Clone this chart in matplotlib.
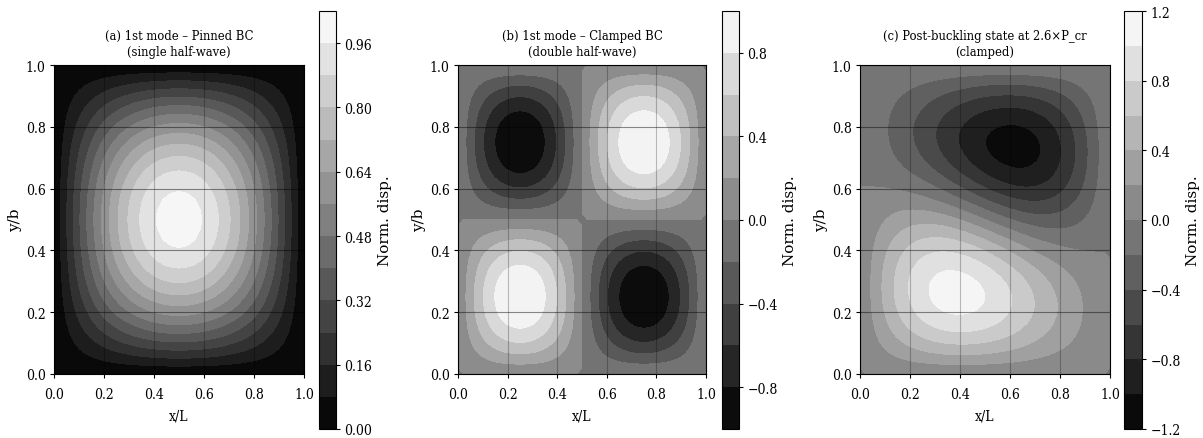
import numpy as np
import matplotlib
matplotlib.use("Agg")
import matplotlib.pyplot as plt

plt.rcParams["font.family"] = "DejaVu Serif"
plt.rcParams["font.stretch"] = "condensed"

W, H = 1203, 439

# grid positions, 1/48 steps along each plate edge
grid = [i / 48 for i in range(49)]

# deflection profiles read along the plate edges
half_wave = [0, .065, .131, .195, .259, .321, .383, .442, .5, .556, .609, .659,
             .707, .752, .793, .831, .866, .897, .924, .947, .966, .981, .991, .998, 1,
             .998, .991, .981, .966, .947, .924, .897, .866, .831, .793, .752,
             .707, .659, .609, .556, .5, .442, .383, .321, .259, .195, .131, .065, 0]
double_wave = [0, .131, .259, .383, .5, .609, .707, .793, .866, .924, .966, .991,
               1, .991, .966, .924, .866, .793, .707, .609, .5, .383, .259, .131, 0,
               -.131, -.259, -.383, -.5, -.609, -.707, -.793, -.866, -.924, -.966, -.991,
               -1, -.991, -.966, -.924, -.866, -.793, -.707, -.609, -.5, -.383, -.259, -.131, 0]
post_mix = 0.33

# rows are y, columns are x
pinned = np.outer(half_wave, half_wave)
clamped = np.outer(double_wave, double_wave)
post = np.outer(double_wave, half_wave) + post_mix * np.outer(half_wave, double_wave)

levels_a = [round(0.08 * i, 2) for i in range(14)]
levels_b = [round(-1 + 0.2 * i, 1) for i in range(11)]
levels_c = [round(-1.2 + 0.2 * i, 1) for i in range(13)]

ticks_a = [0, 0.16, 0.32, 0.48, 0.64, 0.80, 0.96]
ticks_b = [-0.8, -0.4, 0, 0.4, 0.8]
ticks_c = [-1.2, -0.8, -0.4, 0, 0.4, 0.8, 1.2]

titles = [
    "(a) 1st mode – Pinned BC\n(single half-wave)",
    "(b) 1st mode – Clamped BC\n(double half-wave)",
    "(c) Post-buckling state at 2.6×P_cr\n(clamped)",
]


def box(x0, x1, y0, y1):
    # pixel box (y from the top) to figure fractions
    return [x0 / W, 1 - y1 / H, (x1 - x0) / W, (y1 - y0) / H]


panels = [
    (pinned, levels_a, ticks_a, (54, 304), (319, 336)),
    (clamped, levels_b, ticks_b, (458, 706), (722, 739)),
    (post, levels_c, ticks_c, (860, 1110), (1124, 1142)),
]

fig = plt.figure(figsize=(W / 100, H / 100), dpi=100)

for (z, levels, ticks, ax_x, cb_x), title in zip(panels, titles):
    ax = fig.add_axes(box(ax_x[0], ax_x[1], 66, 375))
    cax = fig.add_axes(box(cb_x[0], cb_x[1], 12, 430))

    cf = ax.contourf(grid, grid, z, levels=levels, cmap="gray")
    ax.set_xlim(0, 1)
    ax.set_ylim(0, 1)
    ax.set_xlabel("x/L", fontsize=10, labelpad=5)
    ax.set_ylabel("y/b", fontsize=11, fontstretch="normal", labelpad=3)
    ax.set_title(title, fontsize=9.3, pad=7, linespacing=1.35)
    ax.tick_params(labelsize=10, length=3, pad=3)
    ax.tick_params(axis="x", pad=6.5)
    ax.xaxis.grid(True, color="black", alpha=0.25, linewidth=0.8)
    ax.yaxis.grid(True, color="black", alpha=0.45, linewidth=0.8)

    cb = fig.colorbar(cf, cax=cax)
    cb.set_ticks(ticks)
    cb.ax.tick_params(labelsize=10, length=3, pad=3)
    cb.set_label("Norm. disp.", fontsize=11, fontstretch="normal", labelpad=4)

fig.savefig("out.png", dpi=100)
plt.close(fig)
